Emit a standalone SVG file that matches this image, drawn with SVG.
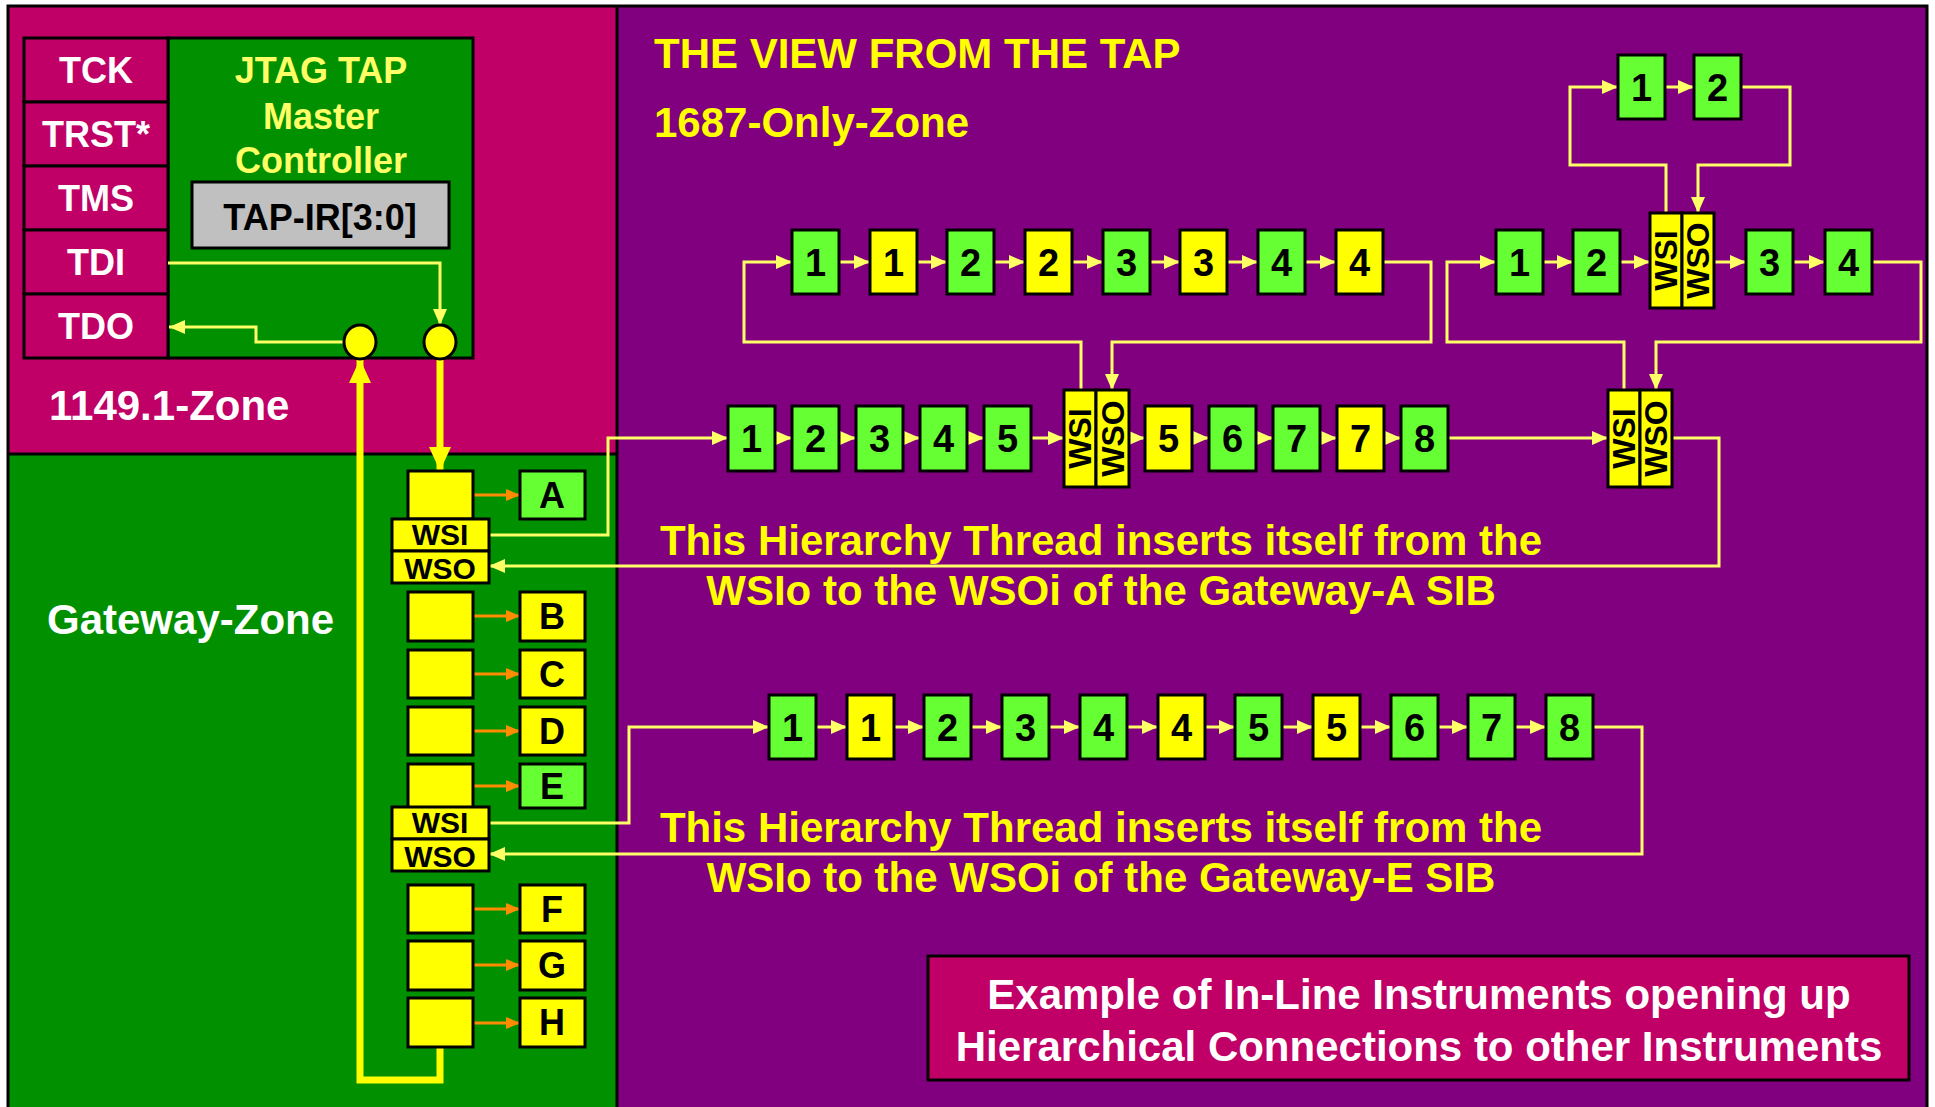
<svg xmlns="http://www.w3.org/2000/svg" width="1935" height="1107" viewBox="0 0 1935 1107">
<style>
text{font-family:"Liberation Sans",Arial,sans-serif;font-weight:bold}
.g{fill:#66FF33;stroke:#000;stroke-width:3}
.y{fill:#FFFF00;stroke:#000;stroke-width:3}
.mg{fill:#C00066;stroke:#000;stroke-width:3}
.num{font-size:38px;fill:#000;text-anchor:middle}
.lt{font-size:36px;fill:#000;text-anchor:middle}
.pin{font-size:36px;fill:#fff;text-anchor:middle}
.ws{font-size:32px;fill:#000;text-anchor:middle}
.wh{font-size:30px;fill:#000;text-anchor:middle}
.zone{font-size:42px;fill:#fff}
.yt{font-size:42px;fill:#FFFF00}
.c{fill:none;stroke:#FFFF66;stroke-width:3}
.o{fill:none;stroke:#FF8C00;stroke-width:3}
.th{fill:none;stroke:#FFFF00;stroke-width:7}
</style>
<defs>
<marker id="ay" markerUnits="userSpaceOnUse" markerWidth="16" markerHeight="14" refX="16" refY="7" orient="auto"><path d="M0,0 L16,7 L0,14 z" fill="#FFFF66"/></marker>
<marker id="ao" markerUnits="userSpaceOnUse" markerWidth="14" markerHeight="14" refX="14" refY="7" orient="auto"><path d="M0,1 L14,7 L0,13 z" fill="#FF8C00"/></marker>
<marker id="at" markerUnits="userSpaceOnUse" markerWidth="24" markerHeight="24" refX="24" refY="12" orient="auto"><path d="M0,1 L24,12 L0,23 z" fill="#FFFF00"/></marker>
</defs>
<rect x="0" y="0" width="1935" height="1107" fill="#fff"/>
<g id="zones">
<rect x="8" y="6" width="609" height="448" fill="#C00066"/>
<rect x="8" y="454" width="609" height="660" fill="#009000"/>
<rect x="617" y="6" width="1310" height="1108" fill="#800080"/>
<line x1="8" y1="454" x2="617" y2="454" stroke="#000" stroke-width="3"/>
<line x1="617" y1="6" x2="617" y2="1110" stroke="#000" stroke-width="3"/>
<rect x="8" y="6" width="1919" height="1110" fill="none" stroke="#000" stroke-width="3"/>
<text class="zone" x="49" y="420">1149.1-Zone</text>
<text class="zone" x="47" y="634">Gateway-Zone</text>
<text class="yt" x="654" y="68">THE VIEW FROM THE TAP</text>
<text class="yt" x="654" y="137">1687-Only-Zone</text>
<text class="yt" x="1101" y="555" text-anchor="middle">This Hierarchy Thread inserts itself from the</text>
<text class="yt" x="1101" y="605" text-anchor="middle">WSIo to the WSOi of the Gateway-A SIB</text>
<text class="yt" x="1101" y="842" text-anchor="middle">This Hierarchy Thread inserts itself from the</text>
<text class="yt" x="1101" y="892" text-anchor="middle">WSIo to the WSOi of the Gateway-E SIB</text>
</g>
<g id="tap">
<rect x="168" y="38" width="305" height="320" fill="#009000" stroke="#000" stroke-width="3"/>
<text x="321" y="83" font-size="36" fill="#FFFF66" text-anchor="middle">JTAG TAP</text>
<text x="321" y="129" font-size="36" fill="#FFFF66" text-anchor="middle">Master</text>
<text x="321" y="173" font-size="36" fill="#FFFF66" text-anchor="middle">Controller</text>
<rect x="192" y="182" width="257" height="66" fill="#C0C0C0" stroke="#000" stroke-width="3"/>
<text class="lt" x="320" y="230">TAP-IR[3:0]</text>
</g>
<g id="pins">
<rect class="mg" x="24" y="38" width="144" height="64"/><text class="pin" x="96" y="83">TCK</text>
<rect class="mg" x="24" y="102" width="144" height="64"/><text class="pin" x="96" y="147">TRST*</text>
<rect class="mg" x="24" y="166" width="144" height="64"/><text class="pin" x="96" y="211">TMS</text>
<rect class="mg" x="24" y="230" width="144" height="64"/><text class="pin" x="96" y="275">TDI</text>
<rect class="mg" x="24" y="294" width="144" height="64"/><text class="pin" x="96" y="339">TDO</text>
</g>
<g id="connectors">
<path class="c" d="M168,263 H440 V325" marker-end="url(#ay)"/>
<path class="c" d="M344,342 H256 V327 H169" marker-end="url(#ay)"/>
<path class="th" d="M440,359 V471" marker-end="url(#at)"/>
<path class="th" d="M440,1047 V1080 H360 V359" marker-end="url(#at)"/>
<path class="o" d="M473,495 H520" marker-end="url(#ao)"/>
<path class="o" d="M473,616 H520" marker-end="url(#ao)"/>
<path class="o" d="M473,674 H520" marker-end="url(#ao)"/>
<path class="o" d="M473,731 H520" marker-end="url(#ao)"/>
<path class="o" d="M473,786 H520" marker-end="url(#ao)"/>
<path class="o" d="M473,909 H520" marker-end="url(#ao)"/>
<path class="o" d="M473,965 H520" marker-end="url(#ao)"/>
<path class="o" d="M473,1023 H520" marker-end="url(#ao)"/>
<path class="c" d="M489,535 H608 V438 H728" marker-end="url(#ay)"/>
<path class="c" d="M775,438 H792" marker-end="url(#ay)"/>
<path class="c" d="M839,438 H856" marker-end="url(#ay)"/>
<path class="c" d="M903,438 H920" marker-end="url(#ay)"/>
<path class="c" d="M967,438 H984" marker-end="url(#ay)"/>
<path class="c" d="M1031,438 H1064" marker-end="url(#ay)"/>
<path class="c" d="M1129,438 H1145" marker-end="url(#ay)"/>
<path class="c" d="M1192,438 H1209" marker-end="url(#ay)"/>
<path class="c" d="M1256,438 H1273" marker-end="url(#ay)"/>
<path class="c" d="M1320,438 H1337" marker-end="url(#ay)"/>
<path class="c" d="M1384,438 H1401" marker-end="url(#ay)"/>
<path class="c" d="M1448,438 H1608" marker-end="url(#ay)"/>
<path class="c" d="M1672,438 H1719 V566 H489" marker-end="url(#ay)"/>
<path class="c" d="M1081,390 V342 H744 V262 H792" marker-end="url(#ay)"/>
<path class="c" d="M839,262 H870" marker-end="url(#ay)"/>
<path class="c" d="M917,262 H947" marker-end="url(#ay)"/>
<path class="c" d="M994,262 H1025" marker-end="url(#ay)"/>
<path class="c" d="M1072,262 H1103" marker-end="url(#ay)"/>
<path class="c" d="M1150,262 H1180" marker-end="url(#ay)"/>
<path class="c" d="M1227,262 H1258" marker-end="url(#ay)"/>
<path class="c" d="M1305,262 H1336" marker-end="url(#ay)"/>
<path class="c" d="M1383,262 H1431 V342 H1112 V390" marker-end="url(#ay)"/>
<path class="c" d="M1624,390 V342 H1447 V262 H1496" marker-end="url(#ay)"/>
<path class="c" d="M1543,262 H1573" marker-end="url(#ay)"/>
<path class="c" d="M1620,262 H1650" marker-end="url(#ay)"/>
<path class="c" d="M1714,262 H1746" marker-end="url(#ay)"/>
<path class="c" d="M1793,262 H1825" marker-end="url(#ay)"/>
<path class="c" d="M1872,262 H1921 V342 H1656 V390" marker-end="url(#ay)"/>
<path class="c" d="M1666,213 V165 H1570 V87 H1618" marker-end="url(#ay)"/>
<path class="c" d="M1665,87 H1694" marker-end="url(#ay)"/>
<path class="c" d="M1741,87 H1790 V165 H1698 V213" marker-end="url(#ay)"/>
<path class="c" d="M489,823 H629 V727 H769" marker-end="url(#ay)"/>
<path class="c" d="M816,727 H847" marker-end="url(#ay)"/>
<path class="c" d="M893,727 H924" marker-end="url(#ay)"/>
<path class="c" d="M971,727 H1002" marker-end="url(#ay)"/>
<path class="c" d="M1049,727 H1080" marker-end="url(#ay)"/>
<path class="c" d="M1127,727 H1158" marker-end="url(#ay)"/>
<path class="c" d="M1205,727 H1235" marker-end="url(#ay)"/>
<path class="c" d="M1282,727 H1313" marker-end="url(#ay)"/>
<path class="c" d="M1360,727 H1391" marker-end="url(#ay)"/>
<path class="c" d="M1438,727 H1468" marker-end="url(#ay)"/>
<path class="c" d="M1515,727 H1546" marker-end="url(#ay)"/>
<path class="c" d="M1593,727 H1642 V854 H489" marker-end="url(#ay)"/>
</g>
<g id="circles">
<ellipse cx="360" cy="342" rx="16" ry="17" fill="#FFFF00" stroke="#000" stroke-width="3"/>
<ellipse cx="440" cy="342" rx="16" ry="17" fill="#FFFF00" stroke="#000" stroke-width="3"/>
</g>
<g id="gateway">
<rect class="y" x="408" y="471" width="65" height="48"/>
<rect class="y" x="392" y="519" width="97" height="32"/><text class="wh" x="440" y="545">WSI</text>
<rect class="y" x="392" y="551" width="97" height="32"/><text class="wh" x="440" y="579">WSO</text>
<rect class="y" x="408" y="592" width="65" height="49"/>
<rect class="y" x="408" y="650" width="65" height="48"/>
<rect class="y" x="408" y="707" width="65" height="48"/>
<rect class="y" x="408" y="764" width="65" height="44"/>
<rect class="y" x="392" y="807" width="97" height="32"/><text class="wh" x="440" y="833">WSI</text>
<rect class="y" x="392" y="839" width="97" height="32"/><text class="wh" x="440" y="867">WSO</text>
<rect class="y" x="408" y="885" width="65" height="48"/>
<rect class="y" x="408" y="941" width="65" height="49"/>
<rect class="y" x="408" y="998" width="65" height="49"/>
</g>
<g id="instruments">
<rect class="g" x="520" y="471" width="65" height="48"/><text class="lt" x="552" y="508">A</text>
<rect class="y" x="520" y="592" width="65" height="49"/><text class="lt" x="552" y="629">B</text>
<rect class="y" x="520" y="650" width="65" height="48"/><text class="lt" x="552" y="687">C</text>
<rect class="y" x="520" y="707" width="65" height="48"/><text class="lt" x="552" y="744">D</text>
<rect class="g" x="520" y="764" width="65" height="44"/><text class="lt" x="552" y="799">E</text>
<rect class="y" x="520" y="885" width="65" height="48"/><text class="lt" x="552" y="922">F</text>
<rect class="y" x="520" y="941" width="65" height="49"/><text class="lt" x="552" y="978">G</text>
<rect class="y" x="520" y="998" width="65" height="49"/><text class="lt" x="552" y="1035">H</text>
</g>
<g id="chain-top">
<rect class="g" x="792" y="230" width="47" height="64"/><text class="num" x="815.5" y="276">1</text>
<rect class="y" x="870" y="230" width="47" height="64"/><text class="num" x="893.5" y="276">1</text>
<rect class="g" x="947" y="230" width="47" height="64"/><text class="num" x="970.5" y="276">2</text>
<rect class="y" x="1025" y="230" width="47" height="64"/><text class="num" x="1048.5" y="276">2</text>
<rect class="g" x="1103" y="230" width="47" height="64"/><text class="num" x="1126.5" y="276">3</text>
<rect class="y" x="1180" y="230" width="47" height="64"/><text class="num" x="1203.5" y="276">3</text>
<rect class="g" x="1258" y="230" width="47" height="64"/><text class="num" x="1281.5" y="276">4</text>
<rect class="y" x="1336" y="230" width="47" height="64"/><text class="num" x="1359.5" y="276">4</text>
</g>
<g id="chain-mid">
<rect class="g" x="728" y="406" width="47" height="65"/><text class="num" x="751.5" y="452">1</text>
<rect class="g" x="792" y="406" width="47" height="65"/><text class="num" x="815.5" y="452">2</text>
<rect class="g" x="856" y="406" width="47" height="65"/><text class="num" x="879.5" y="452">3</text>
<rect class="g" x="920" y="406" width="47" height="65"/><text class="num" x="943.5" y="452">4</text>
<rect class="g" x="984" y="406" width="47" height="65"/><text class="num" x="1007.5" y="452">5</text>
<rect class="y" x="1145" y="406" width="47" height="65"/><text class="num" x="1168.5" y="452">5</text>
<rect class="g" x="1209" y="406" width="47" height="65"/><text class="num" x="1232.5" y="452">6</text>
<rect class="g" x="1273" y="406" width="47" height="65"/><text class="num" x="1296.5" y="452">7</text>
<rect class="y" x="1337" y="406" width="47" height="65"/><text class="num" x="1360.5" y="452">7</text>
<rect class="g" x="1401" y="406" width="47" height="65"/><text class="num" x="1424.5" y="452">8</text>
</g>
<g id="sib-mid">
<rect class="y" x="1064" y="390" width="32" height="97"/>
<rect class="y" x="1096" y="390" width="33" height="97"/>
<text class="ws" transform="translate(1080,438.5) rotate(-90)" y="11">WSI</text>
<text class="ws" transform="translate(1112.5,438.5) rotate(-90)" y="11">WSO</text>
</g>
<g id="sib-right">
<rect class="y" x="1608" y="390" width="32" height="97"/>
<rect class="y" x="1640" y="390" width="32" height="97"/>
<text class="ws" transform="translate(1624,438.5) rotate(-90)" y="11">WSI</text>
<text class="ws" transform="translate(1656,438.5) rotate(-90)" y="11">WSO</text>
</g>
<g id="chain-right">
<rect class="g" x="1496" y="230" width="47" height="64"/><text class="num" x="1519.5" y="276">1</text>
<rect class="g" x="1573" y="230" width="47" height="64"/><text class="num" x="1596.5" y="276">2</text>
<rect class="g" x="1746" y="230" width="47" height="64"/><text class="num" x="1769.5" y="276">3</text>
<rect class="g" x="1825" y="230" width="47" height="64"/><text class="num" x="1848.5" y="276">4</text>
</g>
<g id="sib-topright">
<rect class="y" x="1650" y="213" width="32" height="95"/>
<rect class="y" x="1682" y="213" width="32" height="95"/>
<text class="ws" transform="translate(1666,260.5) rotate(-90)" y="11">WSI</text>
<text class="ws" transform="translate(1698,260.5) rotate(-90)" y="11">WSO</text>
</g>
<g id="chain-topmost">
<rect class="g" x="1618" y="55" width="47" height="64"/><text class="num" x="1641.5" y="101">1</text>
<rect class="g" x="1694" y="55" width="47" height="64"/><text class="num" x="1717.5" y="101">2</text>
</g>
<g id="chain-low">
<rect class="g" x="769" y="695" width="47" height="64"/><text class="num" x="792.5" y="741">1</text>
<rect class="y" x="847" y="695" width="47" height="64"/><text class="num" x="870.5" y="741">1</text>
<rect class="g" x="924" y="695" width="47" height="64"/><text class="num" x="947.5" y="741">2</text>
<rect class="g" x="1002" y="695" width="47" height="64"/><text class="num" x="1025.5" y="741">3</text>
<rect class="g" x="1080" y="695" width="47" height="64"/><text class="num" x="1103.5" y="741">4</text>
<rect class="y" x="1158" y="695" width="47" height="64"/><text class="num" x="1181.5" y="741">4</text>
<rect class="g" x="1235" y="695" width="47" height="64"/><text class="num" x="1258.5" y="741">5</text>
<rect class="y" x="1313" y="695" width="47" height="64"/><text class="num" x="1336.5" y="741">5</text>
<rect class="g" x="1391" y="695" width="47" height="64"/><text class="num" x="1414.5" y="741">6</text>
<rect class="g" x="1468" y="695" width="47" height="64"/><text class="num" x="1491.5" y="741">7</text>
<rect class="g" x="1546" y="695" width="47" height="64"/><text class="num" x="1569.5" y="741">8</text>
</g>
<g id="caption">
<rect class="mg" x="928" y="956" width="981" height="124"/>
<text x="1419" y="1009" font-size="42" fill="#fff" text-anchor="middle">Example of In-Line Instruments opening up</text>
<text x="1419" y="1061" font-size="42" fill="#fff" text-anchor="middle">Hierarchical Connections to other Instruments</text>
</g>
</svg>
